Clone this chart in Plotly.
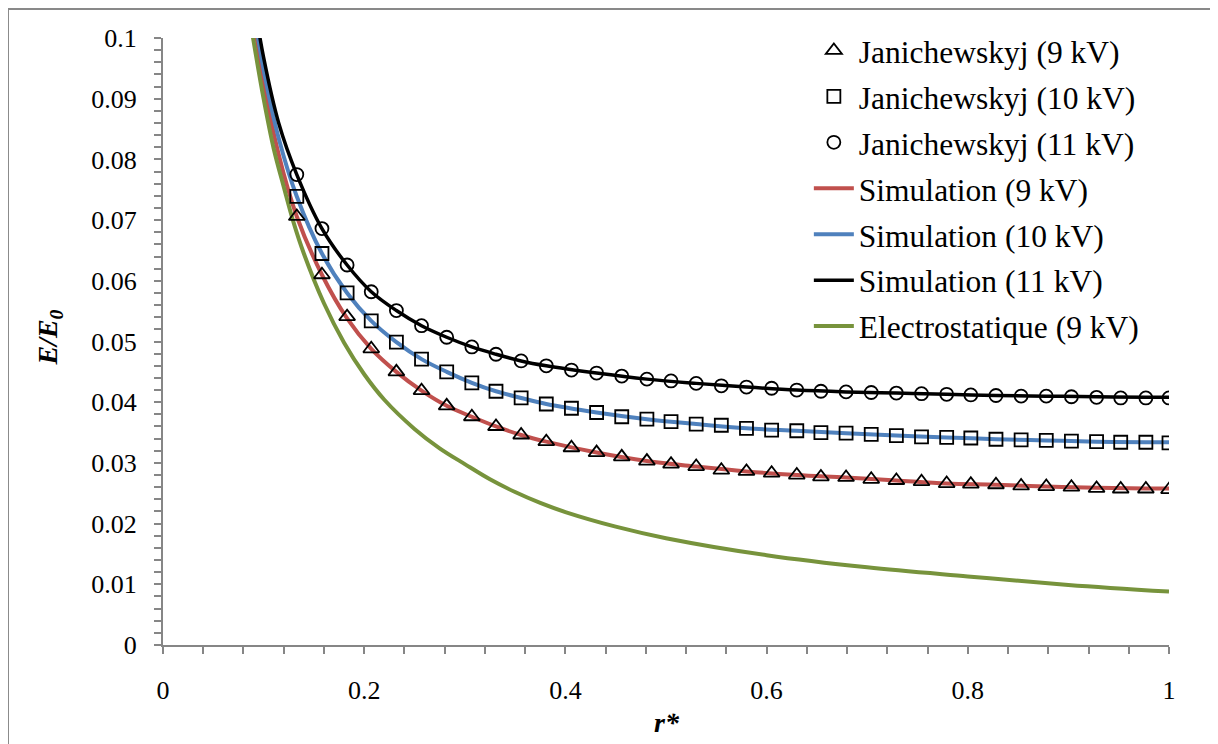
import plotly.graph_objects as go

# ---------------- data ----------------
jan_x = [0.133, 0.158, 0.183, 0.207, 0.232, 0.257, 0.282, 0.307, 0.331, 0.356,
         0.381, 0.406, 0.431, 0.456, 0.481, 0.505, 0.530, 0.555, 0.580, 0.605,
         0.630, 0.654, 0.679, 0.704, 0.729, 0.754, 0.779, 0.803, 0.828, 0.853,
         0.878, 0.903, 0.928, 0.952, 0.977, 1.000]
jan_9kv = [0.0706, 0.0610, 0.0541, 0.0488, 0.0450, 0.0419, 0.0394, 0.0376, 0.0360, 0.0346,
           0.0335, 0.0325, 0.0317, 0.0310, 0.0303, 0.0298, 0.0294, 0.0288, 0.0286, 0.0283,
           0.0280, 0.0277, 0.0276, 0.0273, 0.0271, 0.0269, 0.0266, 0.0265, 0.0264, 0.0262,
           0.0261, 0.0260, 0.0258, 0.0257, 0.0257, 0.0256]
jan_10kv = [0.0739, 0.0645, 0.0580, 0.0534, 0.0499, 0.0471, 0.0450, 0.0432, 0.0418, 0.0407,
            0.0397, 0.0390, 0.0383, 0.0376, 0.0372, 0.0368, 0.0364, 0.0362, 0.0357, 0.0354,
            0.0353, 0.0350, 0.0349, 0.0347, 0.0345, 0.0343, 0.0342, 0.0341, 0.0339, 0.0338,
            0.0337, 0.0336, 0.0335, 0.0334, 0.0334, 0.0333]
jan_11kv = [0.0775, 0.0686, 0.0626, 0.0582, 0.0551, 0.0526, 0.0507, 0.0491, 0.0479, 0.0468,
            0.0460, 0.0453, 0.0448, 0.0443, 0.0438, 0.0435, 0.0431, 0.0427, 0.0425, 0.0423,
            0.0420, 0.0418, 0.0417, 0.0416, 0.0415, 0.0414, 0.0413, 0.0412, 0.0411, 0.0410,
            0.0410, 0.0409, 0.0408, 0.0407, 0.0407, 0.0407]

sim_x = [0.090, 0.100, 0.115, 0.133, 0.158, 0.183, 0.207, 0.232, 0.257, 0.282,
         0.307, 0.331, 0.356, 0.381, 0.431, 0.481, 0.530, 0.580, 0.630, 0.679,
         0.729, 0.779, 0.828, 0.878, 0.928, 0.977, 1.000]
sim_9kv = [0.1035, 0.0928, 0.0808, 0.0706, 0.0610, 0.0538, 0.0488, 0.0450, 0.0419, 0.0394,
           0.0376, 0.0360, 0.0346, 0.0335, 0.0317, 0.0303, 0.0294, 0.0286, 0.0280, 0.0276,
           0.0271, 0.0266, 0.0264, 0.0261, 0.0259, 0.0258, 0.0258]
sim_10kv = [0.1048, 0.0948, 0.0835, 0.0739, 0.0645, 0.0580, 0.0534, 0.0499, 0.0471, 0.0450,
            0.0432, 0.0418, 0.0407, 0.0397, 0.0383, 0.0372, 0.0364, 0.0357, 0.0353, 0.0349,
            0.0345, 0.0342, 0.0339, 0.0337, 0.0335, 0.0334, 0.0334]
sim_11kv = [0.1065, 0.0968, 0.0860, 0.0775, 0.0686, 0.0626, 0.0582, 0.0551, 0.0526, 0.0507,
            0.0491, 0.0479, 0.0468, 0.0460, 0.0448, 0.0438, 0.0431, 0.0425, 0.0420, 0.0417,
            0.0415, 0.0413, 0.0411, 0.0410, 0.0409, 0.0408, 0.0408]

elec_x = [0.088, 0.100, 0.110, 0.120, 0.130, 0.140, 0.160, 0.180, 0.200, 0.220,
          0.250, 0.275, 0.300, 0.325, 0.350, 0.375, 0.400, 0.450, 0.500, 0.600,
          0.700, 0.800, 0.900, 1.000]
elec_9kv = [0.1015, 0.0900, 0.0818, 0.0755, 0.0695, 0.0645, 0.0563, 0.0498, 0.0446, 0.0404,
            0.0356, 0.0324, 0.0298, 0.0273, 0.0252, 0.0234, 0.0219, 0.0195, 0.0176, 0.0148,
            0.0128, 0.0113, 0.0099, 0.0088]

x_ticks = [0, 0.2, 0.4, 0.6, 0.8, 1]
x_ticklabels = ["0", "0.2", "0.4", "0.6", "0.8", "1"]
y_ticks = [0, 0.01, 0.02, 0.03, 0.04, 0.05, 0.06, 0.07, 0.08, 0.09, 0.1]
y_ticklabels = ["0", "0.01", "0.02", "0.03", "0.04", "0.05", "0.06", "0.07", "0.08", "0.09", "0.1"]

# ---------------- figure ----------------
FONT = "Liberation Serif, Times New Roman, serif"
GRAY = "#868686"

fig = go.Figure()

# lines first (drawn below markers), legend order set by legendrank
fig.add_trace(go.Scatter(x=sim_x, y=sim_9kv, mode="lines", name="Simulation (9 kV)",
                         legendgroup="g4", legendrank=4,
                         line=dict(color="#C0504D", width=4, shape="spline")))
fig.add_trace(go.Scatter(x=sim_x, y=sim_10kv, mode="lines", name="Simulation (10 kV)",
                         legendgroup="g5", legendrank=5,
                         line=dict(color="#4F81BD", width=4, shape="spline")))
fig.add_trace(go.Scatter(x=sim_x, y=sim_11kv, mode="lines", name="Simulation (11 kV)",
                         legendgroup="g6", legendrank=6,
                         line=dict(color="black", width=3.5, shape="spline")))
fig.add_trace(go.Scatter(x=elec_x, y=elec_9kv, mode="lines", name="Electrostatique (9 kV)",
                         legendgroup="g7", legendrank=7,
                         line=dict(color="#77933C", width=4, shape="spline", smoothing=1)))

mk_line = dict(color="black", width=1.8)
fig.add_trace(go.Scatter(x=jan_x, y=jan_9kv, mode="markers", name="Janichewskyj (9 kV)",
                         legendgroup="g1", legendrank=1,
                         marker=dict(symbol="triangle-up-open", size=14, color="black", line=mk_line)))
fig.add_trace(go.Scatter(x=jan_x, y=jan_10kv, mode="markers", name="Janichewskyj (10 kV)",
                         legendgroup="g2", legendrank=2,
                         marker=dict(symbol="square-open", size=13, color="black", line=mk_line)))
fig.add_trace(go.Scatter(x=jan_x, y=jan_11kv, mode="markers", name="Janichewskyj (11 kV)",
                         legendgroup="g3", legendrank=3,
                         marker=dict(symbol="circle-open", size=13, color="black", line=mk_line)))

fig.update_layout(
    width=1218, height=744,
    margin=dict(l=155, r=57, t=30, b=107),
    paper_bgcolor="white", plot_bgcolor="white",
    font=dict(family=FONT, color="black", size=26),
    showlegend=True,
    legend=dict(x=0.642, y=1.024, xanchor="left", yanchor="top",
                font=dict(family=FONT, size=31.5, color="black"),
                bgcolor="rgba(0,0,0,0)", traceorder="grouped", tracegroupgap=2,
                itemwidth=40),
    xaxis=dict(range=[0, 1], tickvals=x_ticks, ticktext=x_ticklabels,
               showgrid=False, zeroline=False, showline=True, linecolor=GRAY, linewidth=2,
               ticks="outside", ticklen=7, tickwidth=2, tickcolor=GRAY,
               ticklabelstandoff=14, tickfont=dict(size=26, family=FONT, color="black"),
               minor=dict(ticks="outside", dtick=0.04, ticklen=7, tickwidth=2, tickcolor=GRAY,
                          showgrid=False)),
    yaxis=dict(range=[0, 0.1], tickvals=y_ticks, ticktext=y_ticklabels,
               showgrid=False, zeroline=False, showline=True, linecolor=GRAY, linewidth=2,
               ticks="outside", ticklen=7, tickwidth=2, tickcolor=GRAY,
               ticklabelstandoff=12, tickfont=dict(size=26, family=FONT, color="black"),
               minor=dict(ticks="outside", dtick=0.002, ticklen=7, tickwidth=2, tickcolor=GRAY,
                          showgrid=False)),
)

# axis titles
fig.add_annotation(text="<b><i>r*</i></b>", xref="paper", yref="paper",
                   x=0.501, y=-0.127, xanchor="center", yanchor="middle", showarrow=False,
                   font=dict(family=FONT, size=28, color="black"))
fig.add_annotation(text="<b><i>E/E<sub>0</sub></i></b>", xref="paper", yref="paper",
                   x=-0.113, y=0.507, xanchor="center", yanchor="middle", showarrow=False,
                   textangle=-90, font=dict(family=FONT, size=28, color="black"))

# outer chart-area border
fig.add_shape(type="rect", xref="paper", yref="paper",
              x0=-0.1541, x1=1.0457, y0=-0.18, y1=1.0478,
              line=dict(color="#898989", width=2), fillcolor="rgba(0,0,0,0)", layer="below")

fig.write_html("out.html")
